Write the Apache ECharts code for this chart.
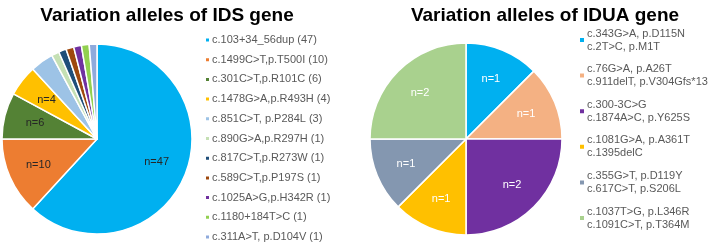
<!DOCTYPE html>
<html><head><meta charset="utf-8">
<script src="https://cdn.jsdelivr.net/npm/echarts@6/dist/echarts.min.js"></script>
<style>html,body{margin:0;padding:0;background:#fff}#c{width:709px;height:244px}</style>
</head><body><div id="c"></div>
<script>
const idsNames = ['c.103+34_56dup (47)','c.1499C>T,p.T500I (10)','c.301C>T,p.R101C (6)','c.1478G>A,p.R493H (4)','c.851C>T, p.P284L (3)','c.890G>A,p.R297H (1)','c.817C>T,p.R273W (1)','c.589C>T,p.P197S (1)','c.1025A>G,p.H342R (1)','c.1180+184T>C (1)','c.311A>T, p.D104V (1)'];
const idsValues = [47,10,6,4,3,1,1,1,1,1,1];
const idsColors = ['#00B0F0','#ED7D31','#548235','#FFC000','#9DC3E6','#C5E0B4','#1F4E79','#9E480E','#7030A0','#92D050','#8FAADC'];
const iduaNames = ['c.343G>A, p.D115N\nc.2T>C, p.M1T','c.76G>A, p.A26T\nc.911delT, p.V304Gfs*13','c.300-3C>G\nc.1874A>C, p.Y625S','c.1081G>A, p.A361T\nc.1395delC','c.355G>T, p.D119Y\nc.617C>T, p.S206L','c.1037T>G, p.L346R\nc.1091C>T, p.T364M'];
const iduaValues = [1,1,2,1,1,2];
const iduaColors = ['#00B0F0','#F4B183','#7030A0','#FFC000','#8497B0','#A9D18E'];
const idsLabelCount = 4;

const FONT = 'Liberation Sans';
const chart = echarts.init(document.getElementById('c'));

function mainData(names, values, colors){
  return names.map((n,i)=>({name:n, value:values[i], itemStyle:{color:colors[i]}}));
}
function labelData(names, values, showFn){
  return names.map((n,i)=>({name:n, value:values[i], label:{show:showFn(i)}}));
}

chart.setOption({
  animation:false,
  title:[
    {text:'Variation alleles of IDS gene', left:162, top:1, textAlign:'center',
     textStyle:{fontFamily:FONT, fontSize:19, fontWeight:'bold', color:'#000'}},
    {text:'Variation alleles of IDUA gene', left:540, top:1, textAlign:'center',
     textStyle:{fontFamily:FONT, fontSize:19, fontWeight:'bold', color:'#000'}}
  ],
  legend:[
    {data:idsNames, orient:'vertical', left:204, top:33.5, padding:0, itemGap:6.7,
     icon:'rect', itemWidth:5, itemHeight:5, selectedMode:false,
     textStyle:{fontFamily:FONT, fontSize:11, lineHeight:13, color:'#595959', padding:[0,0,0,-3]}},
    {data:iduaNames, orient:'vertical', left:578, top:20.5, padding:0, itemGap:-3.4,
     icon:'rect', itemWidth:6, itemHeight:6, selectedMode:false,
     textStyle:{fontFamily:FONT, fontSize:11, lineHeight:13, color:'#595959', padding:[13,0,0,-3]}}
  ],
  series:[
    {type:'pie', center:[97,139], radius:95, startAngle:90, clockwise:true,
     data:mainData(idsNames, idsValues, idsColors),
     itemStyle:{borderColor:'#fff', borderWidth:1.5}, label:{show:false}, labelLine:{show:false},
     emphasis:{disabled:true}, silent:true},
    {type:'pie', center:[466,139], radius:96, startAngle:90, clockwise:true,
     data:mainData(iduaNames, iduaValues, iduaColors),
     itemStyle:{borderColor:'#fff', borderWidth:1.5}, label:{show:false}, labelLine:{show:false},
     emphasis:{disabled:true}, silent:true},
    {type:'pie', center:[97,139], radius:122, startAngle:90, clockwise:true,
     data:labelData(idsNames, idsValues, i=>i<idsLabelCount),
     itemStyle:{color:'rgba(0,0,0,0)', borderWidth:0},
     label:{position:'inside', formatter:p=>'n='+p.value, fontFamily:FONT, fontSize:11, color:'#262626'},
     labelLine:{show:false}, emphasis:{disabled:true}, silent:true, legendHoverLink:false, z:5},
    {type:'pie', center:[466,139], radius:124, startAngle:90, clockwise:true,
     data:labelData(iduaNames, iduaValues, i=>true),
     itemStyle:{color:'rgba(0,0,0,0)', borderWidth:0},
     label:{position:'inside', formatter:p=>'n='+p.value, fontFamily:FONT, fontSize:11, color:'#fff'},
     labelLine:{show:false}, emphasis:{disabled:true}, silent:true, legendHoverLink:false, z:5}
  ]
});
</script>
</body></html>
